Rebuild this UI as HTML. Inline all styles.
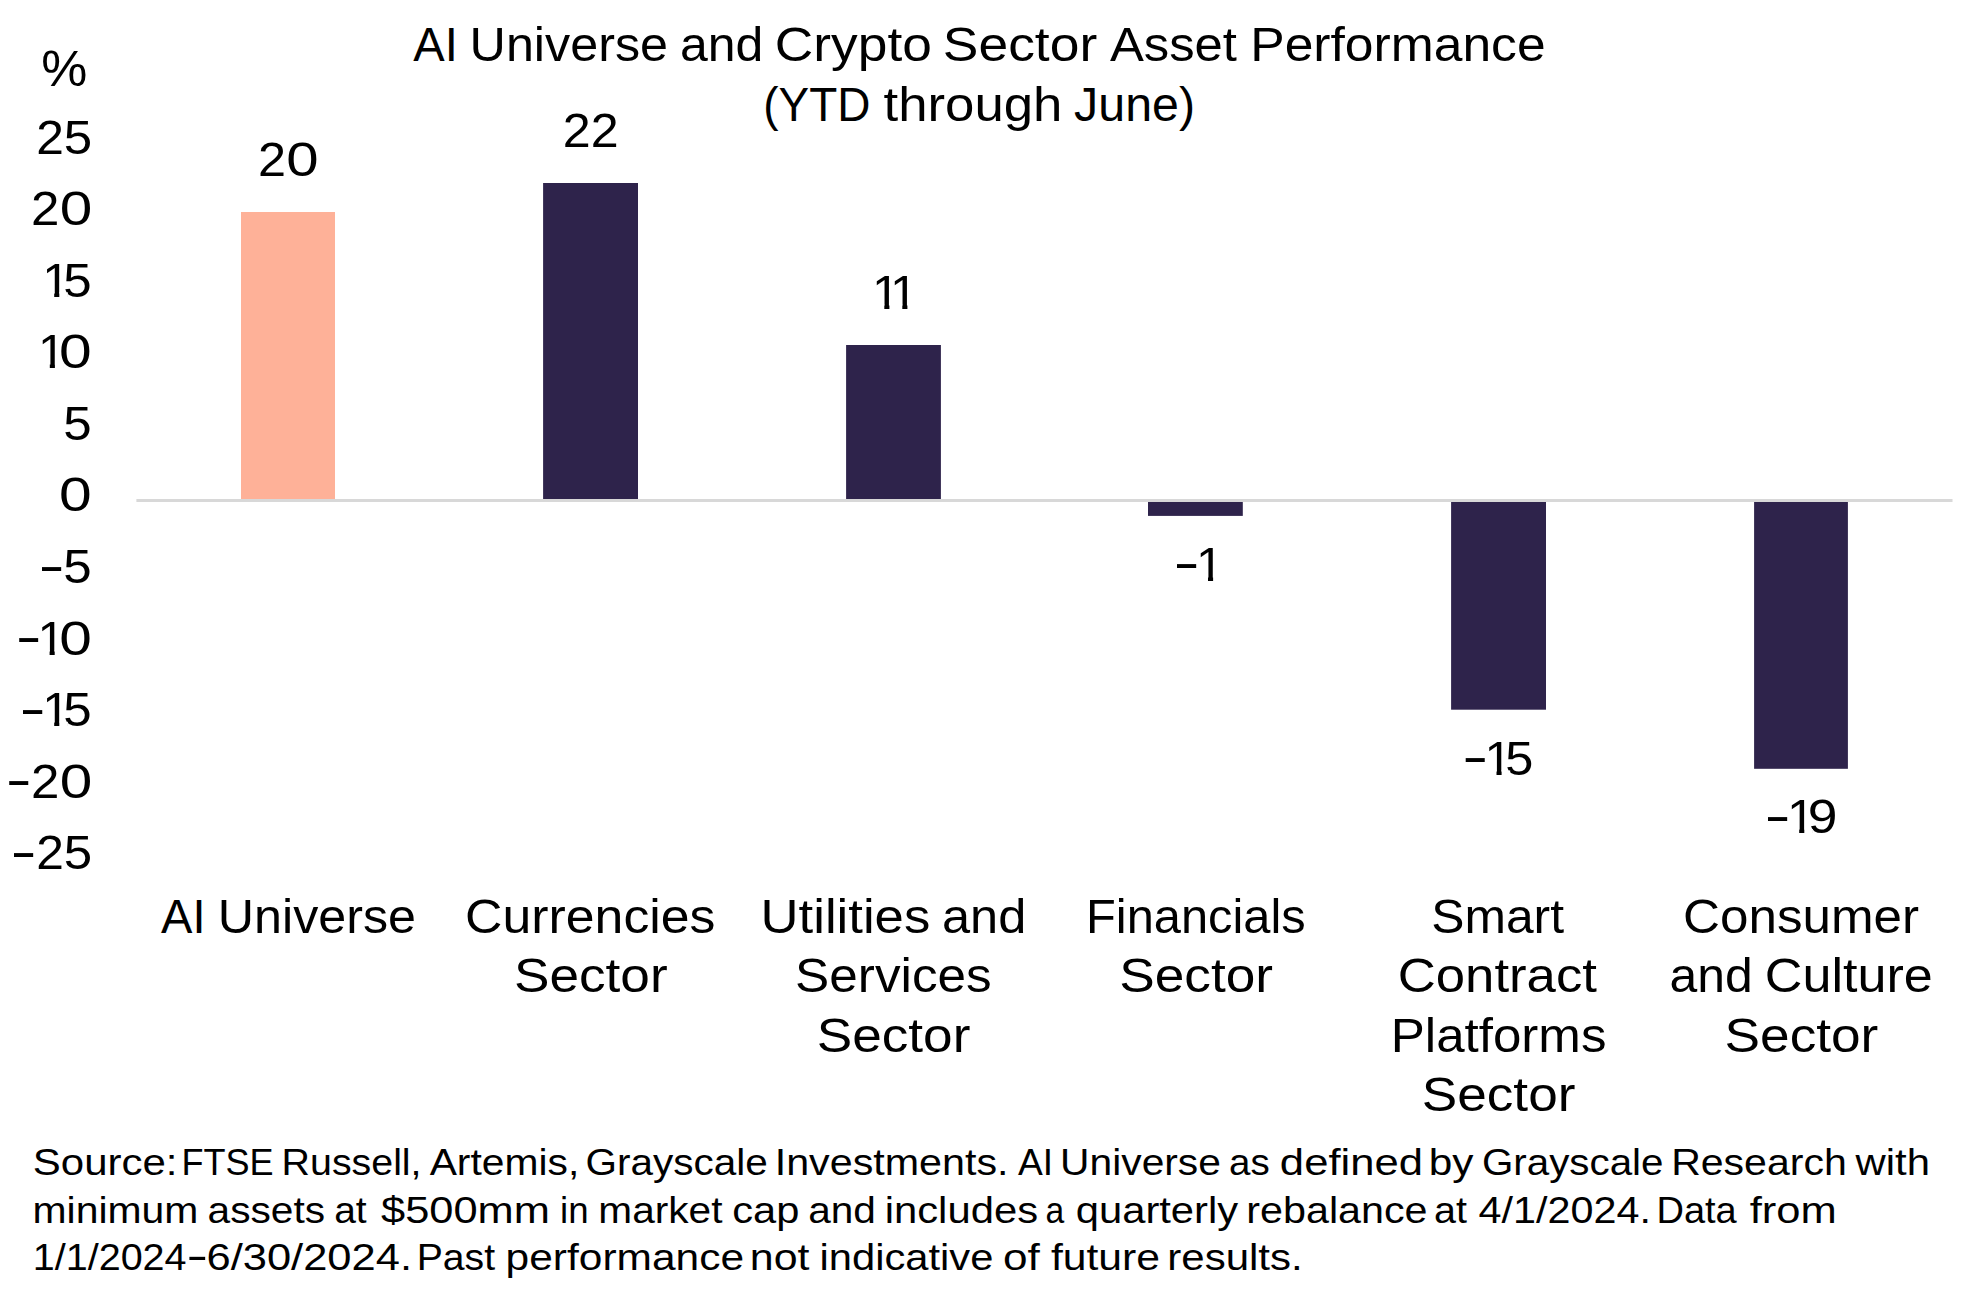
<!DOCTYPE html>
<html lang="en"><head><meta charset="utf-8"><title>AI Universe and Crypto Sector Asset Performance</title>
<style>html,body{margin:0;padding:0;background:#fff;}svg{display:block;}text{font-family:"Liberation Sans",sans-serif;fill:#000;}</style></head><body>
<svg width="1981" height="1307" viewBox="0 0 1981 1307">
<rect width="1981" height="1307" fill="#fff"/>
<rect x="241.0" y="212.0" width="94.0" height="287.0" fill="#FEB198"/>
<rect x="543.1" y="183.0" width="94.9" height="316.0" fill="#2E234B"/>
<rect x="846.1" y="345.0" width="94.8" height="154.0" fill="#2E234B"/>
<rect x="1148.0" y="502.0" width="94.8" height="13.9" fill="#2E234B"/>
<rect x="1451.1" y="502.0" width="94.9" height="207.7" fill="#2E234B"/>
<rect x="1754.1" y="502.0" width="93.8" height="266.8" fill="#2E234B"/>
<rect x="136.4" y="499.0" width="1816.1" height="3.0" fill="#D8D8D8"/>
<defs><mask id="m5" maskUnits="userSpaceOnUse" x="0" y="0" width="1981" height="1307"><rect width="1981" height="1307" fill="#fff"/><rect x="43.80" y="292.31" width="10.40" height="5.60" fill="#000"/><rect x="59.30" y="292.31" width="8.60" height="5.60" fill="#000"/></mask><mask id="m6" maskUnits="userSpaceOnUse" x="0" y="0" width="1981" height="1307"><rect width="1981" height="1307" fill="#fff"/><rect x="39.40" y="363.89" width="10.40" height="5.60" fill="#000"/><rect x="54.90" y="363.89" width="8.60" height="5.60" fill="#000"/></mask><mask id="m10" maskUnits="userSpaceOnUse" x="0" y="0" width="1981" height="1307"><rect width="1981" height="1307" fill="#fff"/><rect x="39.20" y="650.21" width="10.40" height="5.60" fill="#000"/><rect x="54.70" y="650.21" width="8.60" height="5.60" fill="#000"/></mask><mask id="m11" maskUnits="userSpaceOnUse" x="0" y="0" width="1981" height="1307"><rect width="1981" height="1307" fill="#fff"/><rect x="43.80" y="721.79" width="10.40" height="5.60" fill="#000"/><rect x="59.30" y="721.79" width="8.60" height="5.60" fill="#000"/></mask><mask id="m16" maskUnits="userSpaceOnUse" x="0" y="0" width="1981" height="1307"><rect width="1981" height="1307" fill="#fff"/><rect x="873.90" y="304.50" width="10.40" height="5.60" fill="#000"/><rect x="889.40" y="304.50" width="8.60" height="5.60" fill="#000"/><rect x="891.90" y="304.50" width="10.40" height="5.60" fill="#000"/><rect x="907.40" y="304.50" width="12.00" height="5.60" fill="#000"/></mask><mask id="m17" maskUnits="userSpaceOnUse" x="0" y="0" width="1981" height="1307"><rect width="1981" height="1307" fill="#fff"/><rect x="1197.60" y="576.30" width="10.40" height="5.60" fill="#000"/><rect x="1213.10" y="576.30" width="12.00" height="5.60" fill="#000"/></mask><mask id="m18" maskUnits="userSpaceOnUse" x="0" y="0" width="1981" height="1307"><rect width="1981" height="1307" fill="#fff"/><rect x="1486.10" y="770.40" width="10.40" height="5.60" fill="#000"/><rect x="1501.60" y="770.40" width="8.60" height="5.60" fill="#000"/></mask><mask id="m19" maskUnits="userSpaceOnUse" x="0" y="0" width="1981" height="1307"><rect width="1981" height="1307" fill="#fff"/><rect x="1788.80" y="829.00" width="10.40" height="5.60" fill="#000"/><rect x="1804.30" y="829.00" width="8.60" height="5.60" fill="#000"/></mask></defs>
<text font-size="47.5"><tspan id="w0_0" x="413.29" y="60.90" textLength="44.52" lengthAdjust="spacingAndGlyphs">AI</tspan> <tspan id="w0_1" x="469.58" y="60.90" textLength="198.46" lengthAdjust="spacingAndGlyphs">Universe</tspan> <tspan id="w0_2" x="679.92" y="60.90" textLength="83.37" lengthAdjust="spacingAndGlyphs">and</tspan> <tspan id="w0_3" x="774.89" y="60.90" textLength="156.97" lengthAdjust="spacingAndGlyphs">Crypto</tspan> <tspan id="w0_4" x="942.89" y="60.90" textLength="154.31" lengthAdjust="spacingAndGlyphs">Sector</tspan> <tspan id="w0_5" x="1109.90" y="60.90" textLength="126.98" lengthAdjust="spacingAndGlyphs">Asset</tspan> <tspan id="w0_6" x="1250.24" y="60.90" textLength="295.38" lengthAdjust="spacingAndGlyphs">Performance</tspan></text>
<text font-size="47.5"><tspan id="w1_0" x="763.25" y="120.80" textLength="107.10" lengthAdjust="spacingAndGlyphs">(YTD</tspan> <tspan id="w1_1" x="883.50" y="120.80" textLength="178.92" lengthAdjust="spacingAndGlyphs">through</tspan> <tspan id="w1_2" x="1074.13" y="120.80" textLength="120.95" lengthAdjust="spacingAndGlyphs">June)</tspan></text>
<text font-size="47.5"><tspan id="w2_0" x="41.20" y="85.70" font-size="49.5" textLength="46.08" lengthAdjust="spacingAndGlyphs">%</tspan></text>
<text font-size="47.5"><tspan id="w3_0" x="36.18" y="153.55" textLength="27.65" lengthAdjust="spacingAndGlyphs">2</tspan><tspan id="w3_1" x="63.80" y="153.55" textLength="28.37" lengthAdjust="spacingAndGlyphs">5</tspan></text>
<text font-size="47.5"><tspan id="w4_0" x="30.93" y="225.13" textLength="28.40" lengthAdjust="spacingAndGlyphs">2</tspan><tspan id="w4_1" x="59.68" y="225.13" textLength="32.53" lengthAdjust="spacingAndGlyphs">0</tspan></text>
<text font-size="47.5" mask="url(#m5)"><tspan id="w5_0" x="42.18" y="296.71" textLength="27.71" lengthAdjust="spacingAndGlyphs">1</tspan><tspan id="w5_1" x="63.38" y="296.71" textLength="28.41" lengthAdjust="spacingAndGlyphs">5</tspan></text>
<text font-size="47.5" mask="url(#m6)"><tspan id="w6_0" x="37.90" y="368.29" textLength="27.46" lengthAdjust="spacingAndGlyphs">1</tspan><tspan id="w6_1" x="59.00" y="368.29" textLength="32.67" lengthAdjust="spacingAndGlyphs">0</tspan></text>
<text font-size="47.5"><tspan id="w7_0" x="63.38" y="439.87" textLength="28.41" lengthAdjust="spacingAndGlyphs">5</tspan></text>
<text font-size="47.5"><tspan id="w8_0" x="59.00" y="511.45" textLength="32.67" lengthAdjust="spacingAndGlyphs">0</tspan></text>
<text font-size="47.5"><tspan id="w9_0" x="38.48" y="581.53" font-size="50.8" textLength="26.17" lengthAdjust="spacingAndGlyphs">-</tspan><tspan id="w9_1" x="63.38" y="583.03" textLength="28.41" lengthAdjust="spacingAndGlyphs">5</tspan></text>
<text font-size="47.5" mask="url(#m10)"><tspan id="w10_0" x="15.79" y="653.11" font-size="50.8" textLength="25.88" lengthAdjust="spacingAndGlyphs">-</tspan><tspan id="w10_1" x="37.63" y="654.61" textLength="27.48" lengthAdjust="spacingAndGlyphs">1</tspan><tspan id="w10_2" x="59.21" y="654.61" textLength="32.59" lengthAdjust="spacingAndGlyphs">0</tspan></text>
<text font-size="47.5" mask="url(#m11)"><tspan id="w11_0" x="19.61" y="724.69" font-size="50.8" textLength="26.26" lengthAdjust="spacingAndGlyphs">-</tspan><tspan id="w11_1" x="42.18" y="726.19" textLength="27.71" lengthAdjust="spacingAndGlyphs">1</tspan><tspan id="w11_2" x="63.38" y="726.19" textLength="28.41" lengthAdjust="spacingAndGlyphs">5</tspan></text>
<text font-size="47.5"><tspan id="w12_0" x="5.84" y="796.27" font-size="50.8" textLength="25.97" lengthAdjust="spacingAndGlyphs">-</tspan><tspan id="w12_1" x="30.93" y="797.77" textLength="28.40" lengthAdjust="spacingAndGlyphs">2</tspan><tspan id="w12_2" x="59.68" y="797.77" textLength="32.53" lengthAdjust="spacingAndGlyphs">0</tspan></text>
<text font-size="47.5"><tspan id="w13_0" x="10.48" y="867.85" font-size="50.8" textLength="26.17" lengthAdjust="spacingAndGlyphs">-</tspan><tspan id="w13_1" x="36.18" y="869.35" textLength="27.65" lengthAdjust="spacingAndGlyphs">2</tspan><tspan id="w13_2" x="63.80" y="869.35" textLength="28.37" lengthAdjust="spacingAndGlyphs">5</tspan></text>
<text font-size="47.5"><tspan id="w14_0" x="257.96" y="175.80" textLength="28.04" lengthAdjust="spacingAndGlyphs">2</tspan><tspan id="w14_1" x="286.24" y="175.80" textLength="32.36" lengthAdjust="spacingAndGlyphs">0</tspan></text>
<text font-size="47.5"><tspan id="w15_0" x="562.65" y="146.90" textLength="27.94" lengthAdjust="spacingAndGlyphs">2</tspan><tspan id="w15_1" x="590.65" y="146.90" textLength="27.93" lengthAdjust="spacingAndGlyphs">2</tspan></text>
<text font-size="47.5" mask="url(#m16)"><tspan id="w16_0" x="872.11" y="308.90" textLength="27.75" lengthAdjust="spacingAndGlyphs">1</tspan><tspan id="w16_1" x="890.11" y="308.90" textLength="27.75" lengthAdjust="spacingAndGlyphs">1</tspan></text>
<text font-size="47.5" mask="url(#m17)"><tspan id="w17_0" x="1173.48" y="579.20" font-size="50.8" textLength="26.17" lengthAdjust="spacingAndGlyphs">-</tspan><tspan id="w17_1" x="1196.03" y="580.70" textLength="27.49" lengthAdjust="spacingAndGlyphs">1</tspan></text>
<text font-size="47.5" mask="url(#m18)"><tspan id="w18_0" x="1462.20" y="773.30" font-size="50.8" textLength="25.97" lengthAdjust="spacingAndGlyphs">-</tspan><tspan id="w18_1" x="1484.64" y="774.80" textLength="27.47" lengthAdjust="spacingAndGlyphs">1</tspan><tspan id="w18_2" x="1505.26" y="774.80" textLength="28.11" lengthAdjust="spacingAndGlyphs">5</tspan></text>
<text font-size="47.5" mask="url(#m19)"><tspan id="w19_0" x="1764.62" y="831.90" font-size="50.8" textLength="26.18" lengthAdjust="spacingAndGlyphs">-</tspan><tspan id="w19_1" x="1787.05" y="833.40" textLength="28.00" lengthAdjust="spacingAndGlyphs">1</tspan><tspan id="w19_2" x="1807.80" y="833.40" textLength="29.69" lengthAdjust="spacingAndGlyphs">9</tspan></text>
<text font-size="47.5"><tspan id="w20_0" x="161.11" y="932.70" textLength="44.44" lengthAdjust="spacingAndGlyphs">AI</tspan> <tspan id="w20_1" x="217.80" y="932.70" textLength="198.15" lengthAdjust="spacingAndGlyphs">Universe</tspan></text>
<text font-size="47.5"><tspan id="w21_0" x="465.13" y="932.70" textLength="250.38" lengthAdjust="spacingAndGlyphs">Currencies</tspan></text>
<text font-size="47.5"><tspan id="w22_0" x="513.95" y="992.10" textLength="153.66" lengthAdjust="spacingAndGlyphs">Sector</tspan></text>
<text font-size="47.5"><tspan id="w23_0" x="760.53" y="932.70" textLength="169.72" lengthAdjust="spacingAndGlyphs">Utilities</tspan> <tspan id="w23_1" x="941.97" y="932.70" textLength="84.27" lengthAdjust="spacingAndGlyphs">and</tspan></text>
<text font-size="47.5"><tspan id="w24_0" x="795.13" y="992.10" textLength="196.52" lengthAdjust="spacingAndGlyphs">Services</tspan></text>
<text font-size="47.5"><tspan id="w25_0" x="816.77" y="1051.70" textLength="153.59" lengthAdjust="spacingAndGlyphs">Sector</tspan></text>
<text font-size="47.5"><tspan id="w26_0" x="1086.02" y="932.70" textLength="219.67" lengthAdjust="spacingAndGlyphs">Financials</tspan></text>
<text font-size="47.5"><tspan id="w27_0" x="1119.29" y="992.10" textLength="153.78" lengthAdjust="spacingAndGlyphs">Sector</tspan></text>
<text font-size="47.5"><tspan id="w28_0" x="1431.21" y="932.70" textLength="132.79" lengthAdjust="spacingAndGlyphs">Smart</tspan></text>
<text font-size="47.5"><tspan id="w29_0" x="1397.78" y="992.10" textLength="199.14" lengthAdjust="spacingAndGlyphs">Contract</tspan></text>
<text font-size="47.5"><tspan id="w30_0" x="1390.73" y="1051.70" textLength="215.72" lengthAdjust="spacingAndGlyphs">Platforms</tspan></text>
<text font-size="47.5"><tspan id="w31_0" x="1421.74" y="1111.40" textLength="153.69" lengthAdjust="spacingAndGlyphs">Sector</tspan></text>
<text font-size="47.5"><tspan id="w32_0" x="1683.05" y="932.70" textLength="236.05" lengthAdjust="spacingAndGlyphs">Consumer</tspan></text>
<text font-size="47.5"><tspan id="w33_0" x="1669.54" y="992.10" textLength="83.23" lengthAdjust="spacingAndGlyphs">and</tspan> <tspan id="w33_1" x="1764.83" y="992.10" textLength="167.91" lengthAdjust="spacingAndGlyphs">Culture</tspan></text>
<text font-size="47.5"><tspan id="w34_0" x="1724.56" y="1051.70" textLength="153.80" lengthAdjust="spacingAndGlyphs">Sector</tspan></text>
<text font-size="37.8"><tspan id="w35_0" x="32.86" y="1175.30" textLength="144.62" lengthAdjust="spacingAndGlyphs">Source:</tspan> <tspan id="w35_1" x="181.41" y="1175.30" textLength="92.18" lengthAdjust="spacingAndGlyphs">FTSE</tspan> <tspan id="w35_2" x="281.57" y="1175.30" textLength="140.00" lengthAdjust="spacingAndGlyphs">Russell,</tspan> <tspan id="w35_3" x="429.65" y="1175.30" textLength="149.62" lengthAdjust="spacingAndGlyphs">Artemis,</tspan> <tspan id="w35_4" x="585.45" y="1175.30" textLength="182.22" lengthAdjust="spacingAndGlyphs">Grayscale</tspan> <tspan id="w35_5" x="774.70" y="1175.30" textLength="233.84" lengthAdjust="spacingAndGlyphs">Investments.</tspan> <tspan id="w35_6" x="1018.00" y="1175.30" textLength="35.11" lengthAdjust="spacingAndGlyphs">AI</tspan> <tspan id="w35_7" x="1060.12" y="1175.30" textLength="160.80" lengthAdjust="spacingAndGlyphs">Universe</tspan> <tspan id="w35_8" x="1229.08" y="1175.30" textLength="40.68" lengthAdjust="spacingAndGlyphs">as</tspan> <tspan id="w35_9" x="1279.89" y="1175.30" textLength="143.09" lengthAdjust="spacingAndGlyphs">defined</tspan> <tspan id="w35_10" x="1428.67" y="1175.30" textLength="44.70" lengthAdjust="spacingAndGlyphs">by</tspan> <tspan id="w35_11" x="1481.96" y="1175.30" textLength="181.56" lengthAdjust="spacingAndGlyphs">Grayscale</tspan> <tspan id="w35_12" x="1671.15" y="1175.30" textLength="175.63" lengthAdjust="spacingAndGlyphs">Research</tspan> <tspan id="w35_13" x="1855.50" y="1175.30" textLength="74.46" lengthAdjust="spacingAndGlyphs">with</tspan></text>
<text font-size="37.8"><tspan id="w36_0" x="32.50" y="1222.60" textLength="165.86" lengthAdjust="spacingAndGlyphs">minimum</tspan> <tspan id="w36_1" x="207.59" y="1222.60" textLength="117.55" lengthAdjust="spacingAndGlyphs">assets</tspan> <tspan id="w36_2" x="334.17" y="1222.60" textLength="32.53" lengthAdjust="spacingAndGlyphs">at</tspan> <tspan id="w36_3" x="381.02" y="1222.60" textLength="168.85" lengthAdjust="spacingAndGlyphs">$500mm</tspan> <tspan id="w36_4" x="560.05" y="1222.60" textLength="28.55" lengthAdjust="spacingAndGlyphs">in</tspan> <tspan id="w36_5" x="598.34" y="1222.60" textLength="124.14" lengthAdjust="spacingAndGlyphs">market</tspan> <tspan id="w36_6" x="732.21" y="1222.60" textLength="67.13" lengthAdjust="spacingAndGlyphs">cap</tspan> <tspan id="w36_7" x="808.21" y="1222.60" textLength="67.69" lengthAdjust="spacingAndGlyphs">and</tspan> <tspan id="w36_8" x="884.69" y="1222.60" textLength="153.35" lengthAdjust="spacingAndGlyphs">includes</tspan> <tspan id="w36_9" x="1045.59" y="1222.60" textLength="18.74" lengthAdjust="spacingAndGlyphs">a</tspan> <tspan id="w36_10" x="1075.80" y="1222.60" textLength="162.27" lengthAdjust="spacingAndGlyphs">quarterly</tspan> <tspan id="w36_11" x="1246.31" y="1222.60" textLength="181.24" lengthAdjust="spacingAndGlyphs">rebalance</tspan> <tspan id="w36_12" x="1434.14" y="1222.60" textLength="32.93" lengthAdjust="spacingAndGlyphs">at</tspan> <tspan id="w36_13" x="1478.59" y="1222.60" textLength="172.32" lengthAdjust="spacingAndGlyphs">4/1/2024.</tspan> <tspan id="w36_14" x="1656.49" y="1222.60" textLength="80.26" lengthAdjust="spacingAndGlyphs">Data</tspan> <tspan id="w36_15" x="1749.74" y="1222.60" textLength="87.09" lengthAdjust="spacingAndGlyphs">from</tspan></text>
<text font-size="37.8"><tspan id="w37_0" x="32.75" y="1270.40" textLength="153.83" lengthAdjust="spacingAndGlyphs">1/1/2024</tspan><tspan id="w37_1" x="186.46" y="1269.21" font-size="40.4" textLength="21.55" lengthAdjust="spacingAndGlyphs">-</tspan><tspan id="w37_2" x="206.46" y="1270.40" textLength="205.54" lengthAdjust="spacingAndGlyphs">6/30/2024.</tspan> <tspan id="w37_3" x="416.66" y="1270.40" textLength="78.36" lengthAdjust="spacingAndGlyphs">Past</tspan> <tspan id="w37_4" x="505.63" y="1270.40" textLength="238.38" lengthAdjust="spacingAndGlyphs">performance</tspan> <tspan id="w37_5" x="749.85" y="1270.40" textLength="59.68" lengthAdjust="spacingAndGlyphs">not</tspan> <tspan id="w37_6" x="819.48" y="1270.40" textLength="173.94" lengthAdjust="spacingAndGlyphs">indicative</tspan> <tspan id="w37_7" x="1002.90" y="1270.40" textLength="36.83" lengthAdjust="spacingAndGlyphs">of</tspan> <tspan id="w37_8" x="1050.94" y="1270.40" textLength="109.09" lengthAdjust="spacingAndGlyphs">future</tspan> <tspan id="w37_9" x="1167.37" y="1270.40" textLength="135.34" lengthAdjust="spacingAndGlyphs">results.</tspan></text>
</svg></body></html>
